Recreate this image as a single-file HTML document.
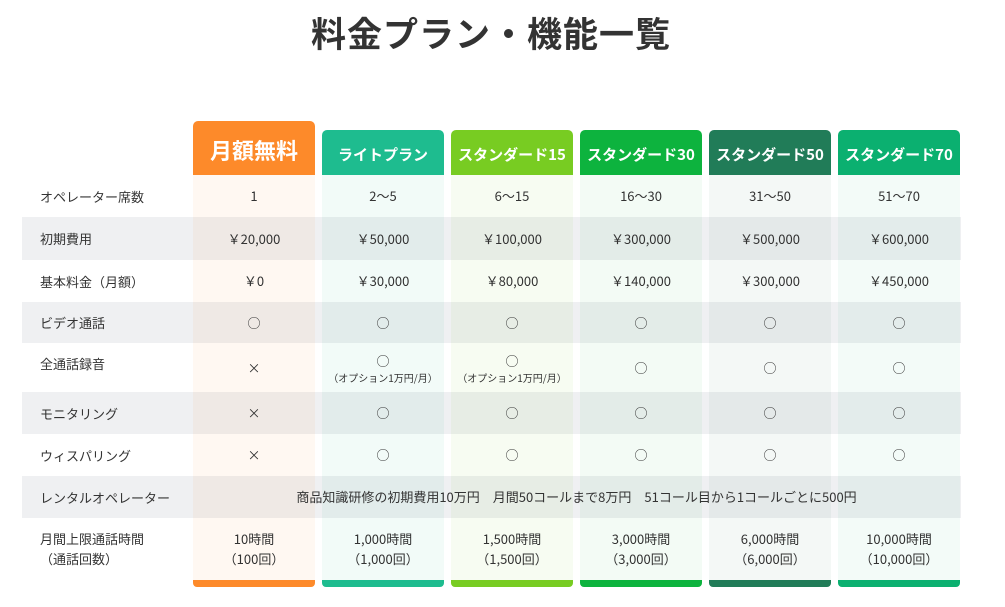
<!DOCTYPE html>
<html><head><meta charset="utf-8"><style>
*{margin:0;padding:0;box-sizing:border-box}
body{width:1005px;height:607px;background:#fff;position:relative;overflow:hidden;font-family:"Noto Sans CJK JP","Liberation Sans",sans-serif;color:#333}
h1{position:absolute;left:0;width:982px;top:8px;text-align:center;font-size:35px;line-height:50px;font-weight:bold;color:#333;letter-spacing:1px}
.band{position:absolute;left:22px;width:939px;background:#eff0f2}
.col{position:absolute;width:122px;top:175px;height:405px}
.hd{position:absolute;width:122px;color:#fff;font-weight:bold;text-align:center;border-radius:5px 5px 0 0;font-size:15px;display:flex;align-items:center;justify-content:center;padding-top:3px}
.bar{position:absolute;width:122px;top:580px;height:7px;border-radius:0 0 4px 4px}
.lab{position:absolute;left:40px;font-size:13px;display:flex;align-items:center}
.c{position:absolute;width:122px;text-align:center;font-size:13px;display:flex;flex-direction:column;align-items:center;justify-content:center;line-height:20px}
.s{font-size:10px;line-height:14px}
</style></head><body>
<h1>料金プラン・機能一覧</h1>
<div class="band" style="top:217px;height:43px"></div>
<div class="band" style="top:302px;height:41px"></div>
<div class="band" style="top:392px;height:42px"></div>
<div class="band" style="top:476px;height:42px"></div>

<div class="col" style="left:193px;background:rgba(253,138,42,0.06)"></div>
<div class="col" style="left:322px;background:rgba(30,188,143,0.06)"></div>
<div class="col" style="left:451px;background:rgba(120,204,34,0.06)"></div>
<div class="col" style="left:580px;background:rgba(13,179,62,0.05)"></div>
<div class="col" style="left:709px;background:rgba(31,123,87,0.05)"></div>
<div class="col" style="left:838px;background:rgba(12,176,110,0.05)"></div>

<div class="hd" style="left:193px;top:121px;height:54px;background:#fd8a2a;font-size:22px">月額無料</div>
<div class="hd" style="left:322px;top:130px;height:45px;background:#1ebc8f">ライトプラン</div>
<div class="hd" style="left:451px;top:130px;height:45px;background:#78cc22">スタンダード15</div>
<div class="hd" style="left:580px;top:130px;height:45px;background:#0db33e">スタンダード30</div>
<div class="hd" style="left:709px;top:130px;height:45px;background:#217c58">スタンダード50</div>
<div class="hd" style="left:838px;top:130px;height:45px;background:#0bb070">スタンダード70</div>

<div class="bar" style="left:193px;background:#fd8a2a"></div>
<div class="bar" style="left:322px;background:#1ebc8f"></div>
<div class="bar" style="left:451px;background:#78cc22"></div>
<div class="bar" style="left:580px;background:#0db33e"></div>
<div class="bar" style="left:709px;background:#217c58"></div>
<div class="bar" style="left:838px;background:#0bb070"></div>

<div class="lab" style="top:175px;height:42px">オペレーター席数</div>
<div class="lab" style="top:217px;height:43px">初期費用</div>
<div class="lab" style="top:260px;height:42px">基本料金（月額）</div>
<div class="lab" style="top:302px;height:41px">ビデオ通話</div>
<div class="lab" style="top:343px;height:40px">全通話録音</div>
<div class="lab" style="top:392px;height:42px">モニタリング</div>
<div class="lab" style="top:434px;height:42px">ウィスパリング</div>
<div class="lab" style="top:476px;height:42px">レンタルオペレーター</div>
<div class="lab" style="top:518px;height:62px;line-height:20px">月間上限通話時間<br>（通話回数）</div>

<div class="c" style="left:193px;top:175px;height:42px">1</div>
<div class="c" style="left:322px;top:175px;height:42px">2〜5</div>
<div class="c" style="left:451px;top:175px;height:42px">6〜15</div>
<div class="c" style="left:580px;top:175px;height:42px">16〜30</div>
<div class="c" style="left:709px;top:175px;height:42px">31〜50</div>
<div class="c" style="left:838px;top:175px;height:42px">51〜70</div>

<div class="c" style="left:193px;top:217px;height:43px">￥20,000</div>
<div class="c" style="left:322px;top:217px;height:43px">￥50,000</div>
<div class="c" style="left:451px;top:217px;height:43px">￥100,000</div>
<div class="c" style="left:580px;top:217px;height:43px">￥300,000</div>
<div class="c" style="left:709px;top:217px;height:43px">￥500,000</div>
<div class="c" style="left:838px;top:217px;height:43px">￥600,000</div>

<div class="c" style="left:193px;top:260px;height:42px">￥0</div>
<div class="c" style="left:322px;top:260px;height:42px">￥30,000</div>
<div class="c" style="left:451px;top:260px;height:42px">￥80,000</div>
<div class="c" style="left:580px;top:260px;height:42px">￥140,000</div>
<div class="c" style="left:709px;top:260px;height:42px">￥300,000</div>
<div class="c" style="left:838px;top:260px;height:42px">￥450,000</div>

<div class="c" style="left:193px;top:302px;height:41px">○</div>
<div class="c" style="left:322px;top:302px;height:41px">○</div>
<div class="c" style="left:451px;top:302px;height:41px">○</div>
<div class="c" style="left:580px;top:302px;height:41px">○</div>
<div class="c" style="left:709px;top:302px;height:41px">○</div>
<div class="c" style="left:838px;top:302px;height:41px">○</div>

<div class="c" style="left:193px;top:343px;height:49px">×</div>
<div class="c" style="left:322px;top:343px;height:49px">○<span class="s">（オプション1万円/月）</span></div>
<div class="c" style="left:451px;top:343px;height:49px">○<span class="s">（オプション1万円/月）</span></div>
<div class="c" style="left:580px;top:343px;height:49px">○</div>
<div class="c" style="left:709px;top:343px;height:49px">○</div>
<div class="c" style="left:838px;top:343px;height:49px">○</div>

<div class="c" style="left:193px;top:392px;height:42px">×</div>
<div class="c" style="left:322px;top:392px;height:42px">○</div>
<div class="c" style="left:451px;top:392px;height:42px">○</div>
<div class="c" style="left:580px;top:392px;height:42px">○</div>
<div class="c" style="left:709px;top:392px;height:42px">○</div>
<div class="c" style="left:838px;top:392px;height:42px">○</div>

<div class="c" style="left:193px;top:434px;height:42px">×</div>
<div class="c" style="left:322px;top:434px;height:42px">○</div>
<div class="c" style="left:451px;top:434px;height:42px">○</div>
<div class="c" style="left:580px;top:434px;height:42px">○</div>
<div class="c" style="left:709px;top:434px;height:42px">○</div>
<div class="c" style="left:838px;top:434px;height:42px">○</div>

<div class="c" style="left:193px;top:476px;height:42px;width:767px;white-space:pre">商品知識研修の初期費用10万円　月間50コールまで8万円　51コール目から1コールごとに500円</div>

<div class="c" style="left:193px;top:518px;height:62px">10時間<br>（100回）</div>
<div class="c" style="left:322px;top:518px;height:62px">1,000時間<br>（1,000回）</div>
<div class="c" style="left:451px;top:518px;height:62px">1,500時間<br>（1,500回）</div>
<div class="c" style="left:580px;top:518px;height:62px">3,000時間<br>（3,000回）</div>
<div class="c" style="left:709px;top:518px;height:62px">6,000時間<br>（6,000回）</div>
<div class="c" style="left:838px;top:518px;height:62px">10,000時間<br>（10,000回）</div>
</body></html>
